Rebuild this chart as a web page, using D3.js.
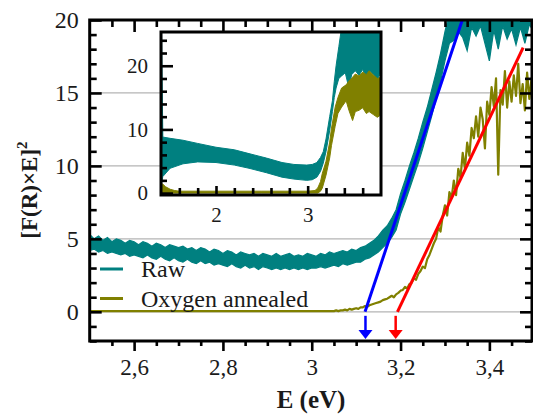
<!DOCTYPE html>
<html><head><meta charset="utf-8">
<script src="https://cdn.jsdelivr.net/npm/d3@7"></script>
<style>body{margin:0;background:#fff}svg{display:block}</style>
</head><body>
<script>
// ---------- DATA ----------
// Main panel, raw sample: min / max envelope of the noisy trace, every 0.01 eV from 2.5 eV
const rawStartE = 2.5, rawStepE = 0.01;
const rawHi = [5.3,5.0,5.2,4.9,5.1,4.8,5.0,4.9,4.7,4.9,
 4.8,4.6,4.8,4.7,4.5,4.7,4.6,4.4,4.6,4.5,
 4.4,4.5,4.3,4.4,4.2,4.4,4.3,4.1,4.3,4.2,
 4.0,4.2,4.1,3.9,4.1,4.0,3.9,4.0,3.8,4.0,
 3.9,3.8,4.0,3.8,3.9,4.0,3.8,3.9,3.8,4.0,
 3.9,3.8,4.0,3.9,4.1,4.0,4.1,4.2,4.1,4.3,
 4.2,4.4,4.5,4.7,4.9,5.2,5.6,5.9,6.4,7.0,
 8.1,9.0,10.0,10.9,11.9,13.0,14.0,15.2,16.4,17.7,
 19.2,20.5,22,22.5,22.5,22.5,22.5,22.5,22.5,22.5,
 22.5,22.5,22.5,22.5,22.5,22.5,22.5,22.5,22.5,22.5,22.5];
const rawLo = [4.2,4.3,4.1,4.2,4.0,4.1,4.0,3.9,4.0,3.8,
 3.9,3.8,3.7,3.9,3.7,3.6,3.8,3.6,3.5,3.7,
 3.5,3.4,3.6,3.4,3.3,3.5,3.3,3.4,3.2,3.3,
 3.2,3.1,3.3,3.1,3.0,3.2,3.0,3.1,2.9,3.1,
 3.0,2.9,3.0,2.9,3.0,2.9,3.0,2.9,3.0,2.9,
 3.0,3.0,3.1,3.0,3.1,3.2,3.1,3.3,3.2,3.3,
 3.4,3.4,3.6,3.7,3.9,4.1,4.4,4.7,5.1,5.6,
 6.7,7.5,8.4,9.3,10.2,11.2,12.3,13.4,14.6,15.8,
 17.2,18.4,18.6,19.2,18.8,17.9,19.5,18.9,19.6,18.4,
 17.2,19.3,18.0,19.6,18.7,19.4,18.3,19.5,18.4,19.7,19.2];
// Main panel: oxygen annealed sample
const oxFlatE = [2.5, 2.6, 2.7, 2.8, 2.9, 3.0];
const oxFlatV = [0.05, 0.05, 0.05, 0.05, 0.05, 0.05];
const oxRiseStartE = 3.05, oxRiseStepE = 0.005;
const oxRiseV = [
 0.05,0.1,0.05,0.1,0.1,0.15,0.1,0.2,0.15,0.2,
 0.25,0.2,0.3,0.3,0.4,0.35,0.45,0.5,0.55,0.6,
 0.65,0.7,0.8,0.85,0.9,1.0,1.1,1.0,1.2,1.3,
 1.45,1.5,1.7,1.6,1.9,2.0,2.3,2.2,2.6,2.8,
 3.1,3.0,3.6,3.9,4.3,4.7,5.0,5.8,5.5,6.6,
 7.3,6.6,8.2,7.8,9.0,8.0,9.8,9.2,10.9,9.8,
 11.6,10.7,12.6,11.9,13.4,12.0,14.0,13.2,11.2,14.4,
 13.5,15.4,14.1,16.0,9.4,15.2,14.2,16.5,14.0,15.8,
 14.4,16.2,14.8,17.0,14.3,15.6,13.8,16.4,14.6,16.0,15.2
];
// Linear (Tauc) fits: [E, value] end points
const fitRaw = [[3.12, 0], [3.339, 20]];
const fitOx  = [[3.193, 0], [3.476, 18.1]];
const gapArrows = [3.121, 3.189];

// Inset: envelopes (min / max) of the noisy spectra
const inRawE  = [1.395,1.405,1.42,1.5,1.64,1.8,2.0,2.2,2.36,2.55,2.72,2.85,2.99,3.05,3.1,3.14,3.17,3.2,3.24,3.27,3.29,3.31,3.34,3.37,3.41,3.45,3.48,3.52,3.56,3.6,3.64,3.68,3.72,3.76,3.8];
const inRawHi = [26,26,8.8,8.6,8.3,7.8,7.2,6.8,6.2,5.5,4.8,4.5,4.4,4.5,4.8,5.6,6.5,8.5,12,14.5,17.5,20,23,26,26,26,26,26,26,26,26,26,26,26,26];
const inRawLo = [0.8,1.5,2.6,3.9,4.6,4.9,4.8,4.4,3.9,3.2,2.5,2.2,2.0,2.1,2.5,3.4,4.7,6.5,9.8,12.8,15,16.5,18,18.4,18.9,16.5,18.6,19.2,18.5,19.4,18.2,19.2,18.6,17.8,19.0];
const inOxE  = [1.395,1.42,1.45,1.5,1.55,1.6,2.0,2.5,3.0,3.08,3.11,3.14,3.16,3.2,3.24,3.26,3.3,3.33,3.37,3.42,3.45,3.49,3.52,3.56,3.6,3.64,3.67,3.72,3.76,3.8];
const inOxHi = [1.6,1.4,1.0,0.6,0.4,0.3,0.3,0.3,0.3,0.4,0.8,1.8,3.1,5.0,8.0,10.2,13.5,15.0,16.5,17.0,17.6,18.2,18.7,18.4,19.0,18.6,19.2,18.5,18.0,18.2];
const inOxLo = [0,0,0,0,0,0,0,0,0,0,0,0.3,0.8,2.8,5.5,7.5,10.5,12.5,13.5,14.5,13.0,11.4,12.8,13.0,13.4,12.5,12.8,12.3,11.9,12.3];

// Ticks
const yMajor = [0, 5, 10, 15, 20];
const yMinor = [-2,-1,1,2,3,4,6,7,8,9,11,12,13,14,16,17,18,19];
const xMajor = [2.6, 2.8, 3.0, 3.2, 3.4];
const xMinor = [2.55,2.65,2.7,2.75,2.85,2.9,2.95,3.05,3.1,3.15,3.25,3.3,3.35,3.45];
const gridValues = [0, 5, 10, 15];
const inYMajor = [0, 10, 20];
const inYMinor = [2,4,6,8,12,14,16,18,22,24];
const inXMajor = [2, 3];
const inXMinor = [1.6,1.8,2.2,2.4,2.6,2.8,3.2,3.4,3.6];
const legendItems = [{label: "Raw", color: "#008080"}, {label: "Oxygen annealed", color: "#808000"}];

// ---------- DRAW ----------
const W = 533, H = 415;
const FONT = "Liberation Serif";
const svg = d3.select("body").append("svg").attr("width", W).attr("height", H);

const x = d3.scaleLinear().domain([2.5, 3.496]).range([89.7, 532]);
const y = d3.scaleLinear().domain([-2, 20]).range([341, 20]);

svg.append("defs").append("clipPath").attr("id", "plotclip")
  .append("rect").attr("x", x.range()[0]).attr("y", y.range()[1])
  .attr("width", x.range()[1] - x.range()[0]).attr("height", y.range()[0] - y.range()[1]);

// grid
svg.append("g").selectAll("line").data(gridValues).join("line")
  .attr("x1", x.range()[0]).attr("x2", x.range()[1])
  .attr("y1", d => y(d)).attr("y2", d => y(d))
  .attr("stroke", "#b4b4b4").attr("stroke-width", 1.2);

const plot = svg.append("g").attr("clip-path", "url(#plotclip)");
const rawBand = rawHi.map((h, i) => [rawStartE + i * rawStepE, rawLo[i], h]);
const oxPts = oxFlatE.map((e, i) => [e, oxFlatV[i]])
  .concat(oxRiseV.map((v, i) => [oxRiseStartE + i * oxRiseStepE, v]));
const line = d3.line().x(d => x(d[0])).y(d => y(d[1]));
const band = d3.area().x(d => x(d[0])).y0(d => y(d[1])).y1(d => y(d[2]));

plot.append("path").attr("d", band(rawBand)).attr("fill", "#008080")
  .attr("stroke", "#008080").attr("stroke-width", 1.2).attr("stroke-linejoin", "miter");
plot.append("path").attr("d", line(oxPts)).attr("fill", "none")
  .attr("stroke", "#808000").attr("stroke-width", 2.2).attr("stroke-linejoin", "round");
plot.append("path").attr("d", line(fitRaw)).attr("fill", "none").attr("stroke", "#0000ff").attr("stroke-width", 3);
plot.append("path").attr("d", line(fitOx)).attr("fill", "none").attr("stroke", "#ff0000").attr("stroke-width", 3);

// band-gap arrows
const arrowColors = ["#0000ff", "#ff0000"];
gapArrows.forEach((e, i) => {
  const ax = x(e), y0 = y(0) + 4, yTip = y(-2) - 2;
  svg.append("line").attr("x1", ax).attr("x2", ax).attr("y1", y0).attr("y2", yTip - 6)
    .attr("stroke", arrowColors[i]).attr("stroke-width", 2.5);
  svg.append("path").attr("d", `M${ax-7},${yTip-9}L${ax+7},${yTip-9}L${ax},${yTip}Z`).attr("fill", arrowColors[i]);
});

// axes
function styleAxis(size) {
  return g => {
    g.attr("font-family", null);
    g.select(".domain").remove();
    g.selectAll(".tick line").attr("stroke", "#000").attr("stroke-width", 2.6);
    g.selectAll("text").style("font-family", FONT).attr("font-size", size).attr("fill", "#1a1a1a");
  };
}
const fmtComma = d => d3.format(".1f")(d).replace(".", ",").replace(",0", "");
svg.append("g").attr("transform", `translate(${x.range()[0]},0)`)
  .call(d3.axisLeft(y).tickValues(yMajor).tickSizeInner(-12).tickSizeOuter(0).tickPadding(11).tickFormat(d3.format("d"))).call(styleAxis(24));
svg.append("g").attr("transform", `translate(${x.range()[0]},0)`)
  .call(d3.axisLeft(y).tickValues(yMinor).tickSizeInner(-7).tickSizeOuter(0).tickFormat("")).call(styleAxis(24));
svg.append("g").attr("transform", `translate(${x.range()[1]},0)`)
  .call(d3.axisRight(y).tickValues(yMajor).tickSizeInner(-12).tickSizeOuter(0).tickFormat("")).call(styleAxis(24));
svg.append("g").attr("transform", `translate(${x.range()[1]},0)`)
  .call(d3.axisRight(y).tickValues(yMinor).tickSizeInner(-7).tickSizeOuter(0).tickFormat("")).call(styleAxis(24));
svg.append("g").attr("transform", `translate(0,${y.range()[0]})`)
  .call(d3.axisBottom(x).tickValues(xMajor).tickSizeInner(10).tickSizeOuter(0).tickPadding(8).tickFormat(fmtComma)).call(styleAxis(23));
svg.append("g").attr("transform", `translate(0,${y.range()[0]})`)
  .call(d3.axisBottom(x).tickValues(xMinor).tickSizeInner(5).tickSizeOuter(0).tickFormat("")).call(styleAxis(23));
svg.append("g").attr("transform", `translate(0,${y.range()[1]})`)
  .call(d3.axisTop(x).tickValues(xMajor).tickSizeInner(-12).tickSizeOuter(0).tickFormat("")).call(styleAxis(23));
svg.append("g").attr("transform", `translate(0,${y.range()[1]})`)
  .call(d3.axisTop(x).tickValues(xMinor).tickSizeInner(-7).tickSizeOuter(0).tickFormat("")).call(styleAxis(23));

svg.append("rect").attr("x", x.range()[0]).attr("y", y.range()[1])
  .attr("width", x.range()[1] - x.range()[0]).attr("height", y.range()[0] - y.range()[1])
  .attr("fill", "none").attr("stroke", "#000").attr("stroke-width", 3);

// ---------- INSET ----------
const ix = d3.scaleLinear().domain([1.4, 3.8]).range([161, 381]);
const iy = d3.scaleLinear().domain([-0.3, 25.3]).range([195, 32]);
const inset = svg.append("g");
inset.append("rect").attr("x", 161).attr("y", 32).attr("width", 220).attr("height", 163).attr("fill", "#fff");
inset.append("defs").append("clipPath").attr("id", "insetclip")
  .append("rect").attr("x", 161).attr("y", 32).attr("width", 220).attr("height", 163);
const ig = inset.append("g").attr("clip-path", "url(#insetclip)");
const area = d3.area().x(d => ix(d[0])).y0(d => iy(d[1])).y1(d => iy(d[2]));
ig.append("path").attr("d", area(inRawE.map((e, i) => [e, inRawLo[i], inRawHi[i]])))
  .attr("fill", "#008080").attr("stroke", "#008080").attr("stroke-width", 1);
ig.append("path").attr("d", area(inOxE.map((e, i) => [e, inOxLo[i], inOxHi[i]])))
  .attr("fill", "#808000").attr("stroke", "#808000").attr("stroke-width", 1);

inset.append("g").attr("transform", "translate(161,0)")
  .call(d3.axisLeft(iy).tickValues(inYMajor).tickSizeInner(-12).tickSizeOuter(0).tickPadding(13).tickFormat(d3.format("d"))).call(styleAxis(21));
inset.append("g").attr("transform", "translate(161,0)")
  .call(d3.axisLeft(iy).tickValues(inYMinor).tickSizeInner(-6).tickSizeOuter(0).tickFormat("")).call(styleAxis(21));
inset.append("g").attr("transform", "translate(0,195)")
  .call(d3.axisBottom(ix).tickValues(inXMajor).tickSizeInner(-9).tickSizeOuter(0).tickPadding(12).tickFormat(d3.format("d"))).call(styleAxis(21));
inset.append("g").attr("transform", "translate(0,195)")
  .call(d3.axisBottom(ix).tickValues(inXMinor).tickSizeInner(-7).tickSizeOuter(0).tickFormat("")).call(styleAxis(21));
inset.append("rect").attr("x", 161).attr("y", 32).attr("width", 220).attr("height", 163)
  .attr("fill", "none").attr("stroke", "#000").attr("stroke-width", 3);

// ---------- LEGEND ----------
const leg = svg.append("g");
legendItems.forEach((it, i) => {
  const ly = 269 + i * 29.5;
  leg.append("line").attr("x1", 100).attr("x2", 123).attr("y1", ly).attr("y2", ly)
    .attr("stroke", it.color).attr("stroke-width", 3);
  leg.append("text").attr("x", 141).attr("y", ly + 8).text(it.label)
    .style("font-family", FONT).attr("font-size", 24).attr("fill", "#1a1a1a");
});

// ---------- TITLES ----------
const yt = svg.append("text").attr("transform", "translate(37,190) rotate(-90)")
  .attr("text-anchor", "middle").style("font-family", FONT).attr("font-size", 23).attr("font-weight", "bold").attr("fill", "#1a1a1a");
yt.append("tspan").text("[F(R)×E]");
yt.append("tspan").text("2").attr("font-size", 15).attr("dy", -10);
svg.append("text").attr("x", 311).attr("y", 408).attr("text-anchor", "middle")
  .style("font-family", FONT).attr("font-size", 25).attr("font-weight", "bold").attr("fill", "#1a1a1a").text("E (eV)");
</script>
</body></html>
